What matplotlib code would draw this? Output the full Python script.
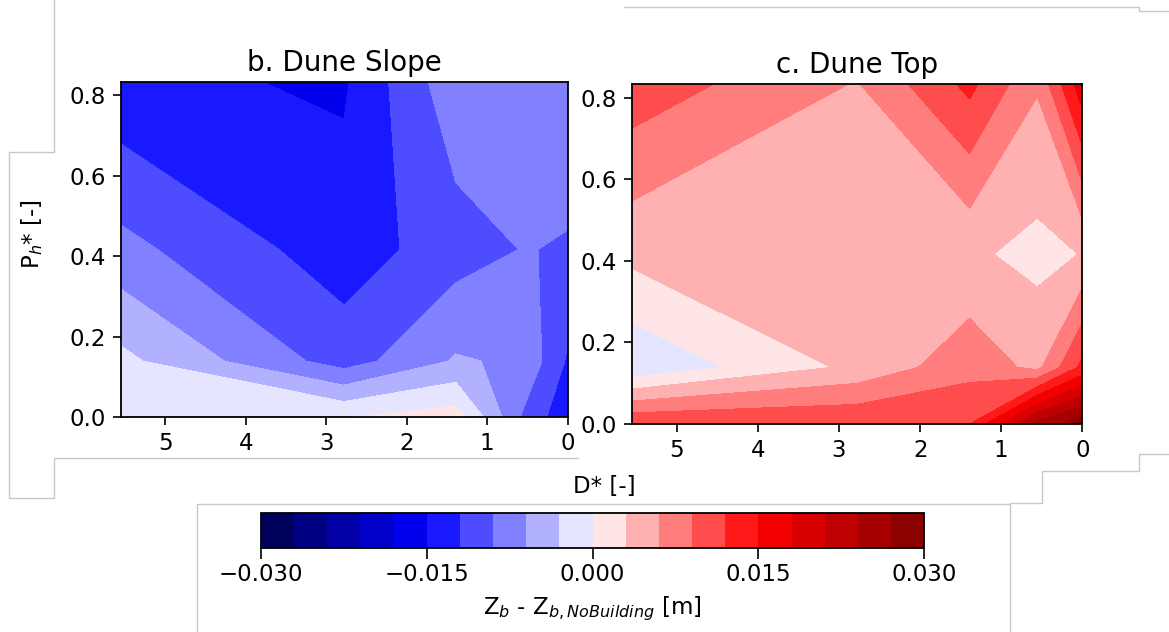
import numpy as np
import matplotlib
matplotlib.use("Agg")
import matplotlib.pyplot as plt
from matplotlib.lines import Line2D

# run grid (D* = distance, Ph* = building height)
d_star = [0.0, 0.555, 1.39, 2.78, 5.55]
ph_star = [0.0, 0.139, 0.4165, 0.833]

# Zb - Zb,NoBuilding [m]; rows follow ph_star, columns follow d_star
dz_slope = [
    [-0.0143, -0.0094, 0.0014, -0.0002, -0.0012],
    [-0.0124, -0.0065, -0.0057, -0.0104, -0.0022],
    [-0.0092, -0.0089, -0.0104, -0.0136, -0.0081],
    [-0.0075, -0.0080, -0.0069, -0.0154, -0.0143],
]
dz_top = [
    [0.0290, 0.0250, 0.0120, 0.0118, 0.0118],
    [0.0128, 0.0052, 0.0079, 0.0037, -0.0025],
    [0.0031, 0.0021, 0.0035, 0.0045, 0.0038],
    [0.0170, 0.0063, 0.0128, 0.0058, 0.0108],
]

levels = np.linspace(-0.03, 0.03, 21)
cbar_ticks = [-0.03, -0.015, 0.0, 0.015, 0.03]
xticks = [5, 4, 3, 2, 1, 0]
yticks = [0.0, 0.2, 0.4, 0.6, 0.8]

W, H = 1169, 632


def px(x0, y0, x1, y1):
    # pixel box -> figure fraction rect
    return [x0 / W, 1 - y1 / H, (x1 - x0) / W, (y1 - y0) / H]


fig = plt.figure(figsize=(W / 100, H / 100), dpi=100)

X, Y = np.meshgrid(d_star, ph_star)

panels = [
    ("b. Dune Slope", dz_slope, px(121, 82, 567.7, 417)),
    ("c. Dune Top", dz_top, px(632.3, 84.3, 1082.3, 424)),
]

for title, z, rect in panels:
    ax = fig.add_axes(rect)
    cs = ax.contourf(X, Y, np.array(z), levels=levels, cmap="seismic",
                     vmin=-0.03, vmax=0.03)
    ax.set_xlim(max(d_star), 0)
    ax.set_ylim(0, max(ph_star))
    ax.set_xticks(xticks)
    ax.set_yticks(yticks)
    ax.tick_params(labelsize=16.5, length=6, width=1.2, pad=5)
    for s in ax.spines.values():
        s.set_linewidth(1.3)
    ax.set_title(title, fontsize=20, pad=8)

fig.text(32 / W, 1 - 234 / H, r"P$_h$* [-]", rotation=90, fontsize=16.5,
         ha="center", va="center")
fig.text(604 / W, 1 - 487 / H, "D* [-]", fontsize=16.5, ha="center", va="center")

cax = fig.add_axes(px(260.5, 513, 924.5, 548))
cb = fig.colorbar(cs, cax=cax, orientation="horizontal", ticks=cbar_ticks)
cb.ax.tick_params(labelsize=16.5, length=8, width=1.2, pad=3)
cb.outline.set_linewidth(1.3)
cb.set_label(r"Z$_b$ - Z$_{b, NoBuilding}$ [m]", fontsize=16.5, labelpad=6)

# faint borders left over from the pasted screenshot pieces
frame_lines = [
    [(54, 0), (54, 152), (9, 152), (9, 498), (54, 498), (54, 458), (578, 458)],
    [(197, 632), (197, 504), (1010, 504), (1010, 632)],
    [(624, 7), (1139, 7), (1139, 11), (1169, 11)],
    [(1169, 454), (1139, 454), (1139, 471), (1042, 471), (1042, 503), (1010, 503)],
]
for seg in frame_lines:
    xs = [p[0] / W for p in seg]
    ys = [1 - p[1] / H for p in seg]
    fig.add_artist(Line2D(xs, ys, color="#c8c8c8", lw=1.0))

fig.savefig("out.png", dpi=100)
